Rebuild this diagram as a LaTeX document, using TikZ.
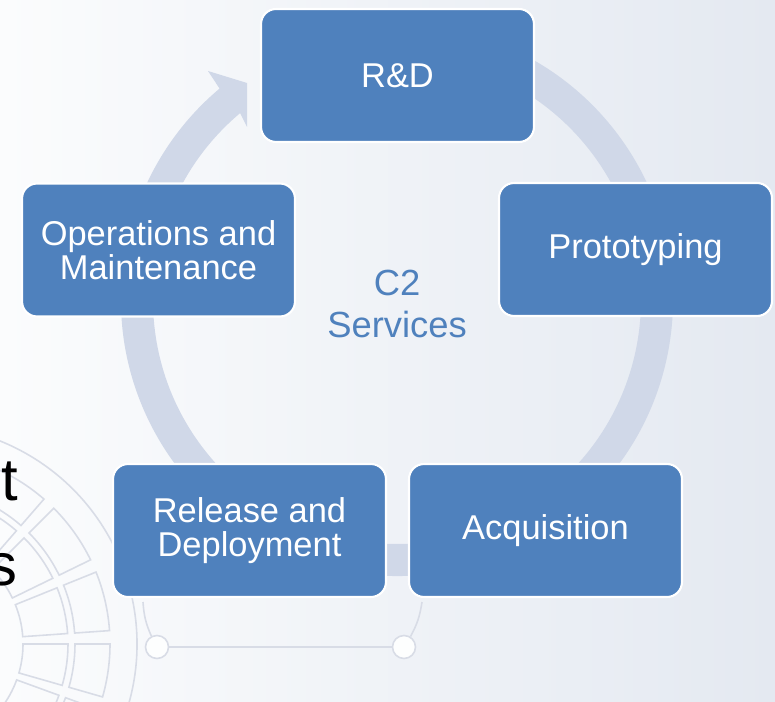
\documentclass[tikz,border=0pt]{standalone}
\usepackage{fontspec}
\setmainfont{Liberation Sans}
\usetikzlibrary{positioning}
\definecolor{boxblue}{HTML}{4F81BD}
\definecolor{ringgray}{HTML}{D0D8E8}
\definecolor{decogray}{HTML}{D8DCE6}
\definecolor{bgleft}{HTML}{FBFCFD}
\definecolor{bgright}{HTML}{E4E9F1}
\begin{document}
\begin{tikzpicture}[x=0.02cm, y=0.02cm,
	phase/.style={draw=white, line width=1.2pt, fill=boxblue, rounded corners=0.3cm,
		minimum width=5.46cm, minimum height=2.66cm, text=white, align=center,
		font=\fontsize{19.6pt}{19.4pt}\selectfont},
	deco/.style={draw=decogray, line width=0.9pt},
	knob/.style={circle, draw=decogray, line width=0.9pt, fill=white!60!bgleft, minimum size=0.46cm, inner sep=0pt}]

	% Draw the background
	\useasboundingbox (0,0) rectangle (775,701);
	\clip (0,0) rectangle (775,701);
	\shade[left color=bgleft, right color=bgright] (0,0) rectangle (775,701);

	% Draw the grid in the corner
	\coordinate (hub) at (-82,57);
	\draw[deco] ([shift={(-25:219)}]hub) arc[start angle=-25, end angle=100, radius=219];
	\foreach \ra/\rb in {105/150, 157/192} {
		\foreach \aa/\ab in {-38/-20, -16/0, 4/22, 26/45, 49/68, 72/92} {
			\draw[deco] ([shift={(\aa:\ra)}]hub) arc[start angle=\aa, end angle=\ab, radius=\ra]
				-- ([shift={(\ab:\rb)}]hub) arc[start angle=\ab, end angle=\aa, radius=\rb] -- cycle;
		}
	}

	% Draw the words cut off at the left
	\node[anchor=base east, inner sep=0pt, font=\fontsize{34pt}{34pt}\selectfont] (endt) at (18,201) {t};
	\node[anchor=base east, inner sep=0pt, font=\fontsize{34pt}{34pt}\selectfont] (ends) at (18,116) {s};

	% Draw the cycle arrow
	\coordinate (ctr) at (397,401);
	\fill[ringgray] ([shift={(80:276)}]ctr) arc[start angle=80, end angle=-230, radius=276]
		-- (208,630) -- (247,618) -- (247,574)
		-- ([shift={(130:244)}]ctr) arc[start angle=-230, end angle=80, radius=244] -- cycle;

	% Draw the boxes
	\node[phase] (rd) at (397.5,625.5) {R\&D};
	\node[phase] (proto) at (635.5,451.5) {Prototyping};
	\node[phase] (acq) at (545.5,170.5) {Acquisition};
	\node[phase] (rel) at (249.5,170.5) {Release and\\Deployment};
	\node[phase] (ops) at (158.5,451) {Operations and\\Maintenance};

	\node[text=boxblue, align=center, font=\fontsize{20.7pt}{23.8pt}\selectfont] (svc) at (397,397) {C2\\Services};

	% Draw the line under the boxes
	\node[knob] (lknob) at (157,54) {};
	\node[knob] (rknob) at (404,54) {};
	\coordinate (lfoot) at (143,99);
	\coordinate (rfoot) at (422,99);
	\draw[deco] (lknob) -- (rknob);
	\draw[deco] (lknob) to[bend left=10] (lfoot);
	\draw[deco] (rknob) to[bend right=10] (rfoot);

\end{tikzpicture}
\end{document}
